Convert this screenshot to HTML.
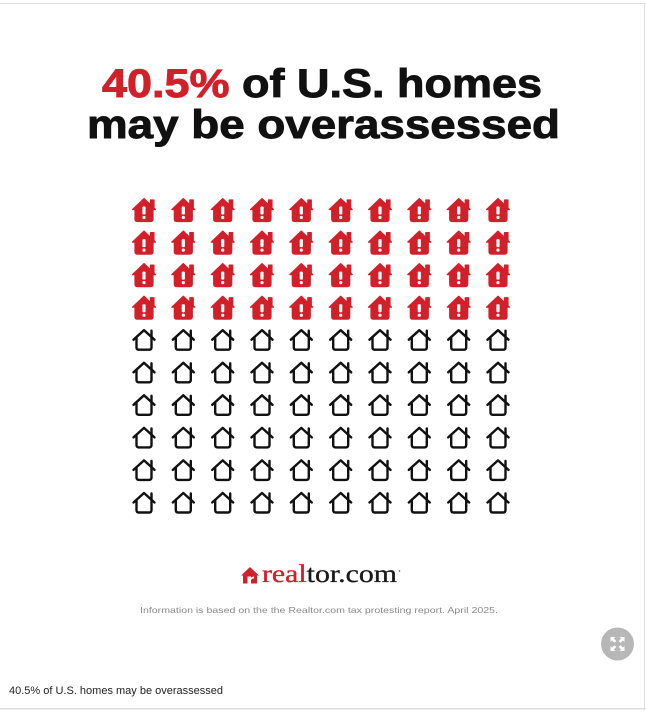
<!DOCTYPE html>
<html>
<head>
<meta charset="utf-8">
<style>
  html, body { margin:0; padding:0; background:#fff; }
  body { width:646px; height:712px; overflow:hidden; }
  svg { display:block; }
</style>
</head>
<body>
<svg width="646" height="712" viewBox="0 0 646 712" xmlns="http://www.w3.org/2000/svg">
  <defs>
    <g id="red">
      <path d="M -11.5,-0.5 L 0,-11.5 L 6.5,-5.3 L 6.5,-10 L 10,-10 L 10,-2 L 11.5,-0.5 L 9,-0.5 L 9,9 Q 9,11.5 6.5,11.5 L -6.5,11.5 Q -9,11.5 -9,9 L -9,-0.5 Z" fill="#d2202b" stroke="#d2202b" stroke-width="1.2" stroke-linejoin="round"/>
      <rect x="-1.6" y="-3.5" width="3.2" height="8" rx="0.9" fill="#fff"/>
      <circle cx="0" cy="7.5" r="1.6" fill="#fff"/>
    </g>
    <g id="out" fill="none" stroke="#111" stroke-width="2.4" stroke-linecap="round" stroke-linejoin="round">
      <path d="M -10.5,-0.5 L 0,-10 L 10.5,-0.5"/>
      <path d="M 7.5,-3.5 L 7.5,-9.5"/>
      <path d="M -7.5,-2.5 L -7.5,7 Q -7.5,9.5 -5,9.5 L 5,9.5 Q 7.5,9.5 7.5,7 L 7.5,-2.5"/>
    </g>
  </defs>

  <!-- frame lines -->
  <rect x="0" y="3" width="646" height="1" fill="#e2e2e2"/>
  <rect x="644" y="3" width="1" height="707" fill="#e2e2e2"/>
  <rect x="0" y="708" width="646" height="1.5" fill="#dcdcdc"/>

  <!-- title -->
  <text x="102" y="97" font-family="'Liberation Sans', sans-serif" font-weight="bold" font-size="40" textLength="440" lengthAdjust="spacingAndGlyphs" fill="#111" stroke="#111" stroke-width="0.9"><tspan fill="#d2202b" stroke="#d2202b">40.5%</tspan> of U.S. homes</text>
  <text x="87" y="138" font-family="'Liberation Sans', sans-serif" font-weight="bold" font-size="40" textLength="473" lengthAdjust="spacingAndGlyphs" fill="#111" stroke="#111" stroke-width="0.9">may be overassessed</text>

  <!-- icon grid -->
  <g>
    <use href="#red" x="144" y="210"/><use href="#red" x="183.3" y="210"/><use href="#red" x="222.7" y="210"/><use href="#red" x="262" y="210"/><use href="#red" x="301.3" y="210"/><use href="#red" x="340.7" y="210"/><use href="#red" x="380" y="210"/><use href="#red" x="419.3" y="210"/><use href="#red" x="458.7" y="210"/><use href="#red" x="498" y="210"/>
    <use href="#red" x="144" y="242.6"/><use href="#red" x="183.3" y="242.6"/><use href="#red" x="222.7" y="242.6"/><use href="#red" x="262" y="242.6"/><use href="#red" x="301.3" y="242.6"/><use href="#red" x="340.7" y="242.6"/><use href="#red" x="380" y="242.6"/><use href="#red" x="419.3" y="242.6"/><use href="#red" x="458.7" y="242.6"/><use href="#red" x="498" y="242.6"/>
    <use href="#red" x="144" y="275.1"/><use href="#red" x="183.3" y="275.1"/><use href="#red" x="222.7" y="275.1"/><use href="#red" x="262" y="275.1"/><use href="#red" x="301.3" y="275.1"/><use href="#red" x="340.7" y="275.1"/><use href="#red" x="380" y="275.1"/><use href="#red" x="419.3" y="275.1"/><use href="#red" x="458.7" y="275.1"/><use href="#red" x="498" y="275.1"/>
    <use href="#red" x="144" y="307.7"/><use href="#red" x="183.3" y="307.7"/><use href="#red" x="222.7" y="307.7"/><use href="#red" x="262" y="307.7"/><use href="#red" x="301.3" y="307.7"/><use href="#red" x="340.7" y="307.7"/><use href="#red" x="380" y="307.7"/><use href="#red" x="419.3" y="307.7"/><use href="#red" x="458.7" y="307.7"/><use href="#red" x="498" y="307.7"/>
  </g>
  <g>
    <use href="#out" x="144" y="340.2"/><use href="#out" x="183.3" y="340.2"/><use href="#out" x="222.7" y="340.2"/><use href="#out" x="262" y="340.2"/><use href="#out" x="301.3" y="340.2"/><use href="#out" x="340.7" y="340.2"/><use href="#out" x="380" y="340.2"/><use href="#out" x="419.3" y="340.2"/><use href="#out" x="458.7" y="340.2"/><use href="#out" x="498" y="340.2"/>
    <use href="#out" x="144" y="372.8"/><use href="#out" x="183.3" y="372.8"/><use href="#out" x="222.7" y="372.8"/><use href="#out" x="262" y="372.8"/><use href="#out" x="301.3" y="372.8"/><use href="#out" x="340.7" y="372.8"/><use href="#out" x="380" y="372.8"/><use href="#out" x="419.3" y="372.8"/><use href="#out" x="458.7" y="372.8"/><use href="#out" x="498" y="372.8"/>
    <use href="#out" x="144" y="405.3"/><use href="#out" x="183.3" y="405.3"/><use href="#out" x="222.7" y="405.3"/><use href="#out" x="262" y="405.3"/><use href="#out" x="301.3" y="405.3"/><use href="#out" x="340.7" y="405.3"/><use href="#out" x="380" y="405.3"/><use href="#out" x="419.3" y="405.3"/><use href="#out" x="458.7" y="405.3"/><use href="#out" x="498" y="405.3"/>
    <use href="#out" x="144" y="437.9"/><use href="#out" x="183.3" y="437.9"/><use href="#out" x="222.7" y="437.9"/><use href="#out" x="262" y="437.9"/><use href="#out" x="301.3" y="437.9"/><use href="#out" x="340.7" y="437.9"/><use href="#out" x="380" y="437.9"/><use href="#out" x="419.3" y="437.9"/><use href="#out" x="458.7" y="437.9"/><use href="#out" x="498" y="437.9"/>
    <use href="#out" x="144" y="470.4"/><use href="#out" x="183.3" y="470.4"/><use href="#out" x="222.7" y="470.4"/><use href="#out" x="262" y="470.4"/><use href="#out" x="301.3" y="470.4"/><use href="#out" x="340.7" y="470.4"/><use href="#out" x="380" y="470.4"/><use href="#out" x="419.3" y="470.4"/><use href="#out" x="458.7" y="470.4"/><use href="#out" x="498" y="470.4"/>
    <use href="#out" x="144" y="503"/><use href="#out" x="183.3" y="503"/><use href="#out" x="222.7" y="503"/><use href="#out" x="262" y="503"/><use href="#out" x="301.3" y="503"/><use href="#out" x="340.7" y="503"/><use href="#out" x="380" y="503"/><use href="#out" x="419.3" y="503"/><use href="#out" x="458.7" y="503"/><use href="#out" x="498" y="503"/>
  </g>

  <!-- realtor.com logo -->
  <g transform="translate(250,576)">
    <path d="M -9,-0.5 L 0,-9 L 9,-0.5 L 7,-0.5 L 7,7.5 L -7,7.5 L -7,-0.5 Z" fill="#d2202b"/>
    <path d="M -2.5,0.5 L 1,0.5 L 1,1.8 Q 2.2,0.3 4,0.5 L 4,2.6 Q 1.8,2.3 1,4 L 1,7.5 L -2.5,7.5 Z" fill="#fff"/>
  </g>
  <text x="262" y="582" font-family="'Liberation Serif', serif" font-size="25" textLength="135" lengthAdjust="spacingAndGlyphs" fill="#1a1a1a" stroke="#1a1a1a" stroke-width="0.3"><tspan fill="#d2202b" stroke="#d2202b">real</tspan>tor.com</text>
  <circle cx="399.5" cy="571" r="0.8" fill="#555"/>

  <!-- source note -->
  <text x="140" y="613" font-family="'Liberation Sans', sans-serif" font-size="8.5" textLength="358" lengthAdjust="spacingAndGlyphs" fill="#8a8a8a">Information is based on the the Realtor.com tax protesting report. April 2025.</text>

  <!-- expand button -->
  <circle cx="617.5" cy="644" r="16.5" fill="#b7b7b7"/>
  <g fill="#fff" transform="translate(617.5,644)">
    <path d="M -7,-7 L -2,-7 L -3.6,-5.4 L -1.2,-3 L -3,-1.2 L -5.4,-3.6 L -7,-2 Z"/>
    <path d="M 7,-7 L 2,-7 L 3.6,-5.4 L 1.2,-3 L 3,-1.2 L 5.4,-3.6 L 7,-2 Z"/>
    <path d="M -7,7 L -2,7 L -3.6,5.4 L -1.2,3 L -3,1.2 L -5.4,3.6 L -7,2 Z"/>
    <path d="M 7,7 L 2,7 L 3.6,5.4 L 1.2,3 L 3,1.2 L 5.4,3.6 L 7,2 Z"/>
  </g>

  <!-- caption -->
  <text x="9" y="694" font-family="'Liberation Sans', sans-serif" font-size="11" fill="#222">40.5% of U.S. homes may be overassessed</text>
</svg>
</body>
</html>
